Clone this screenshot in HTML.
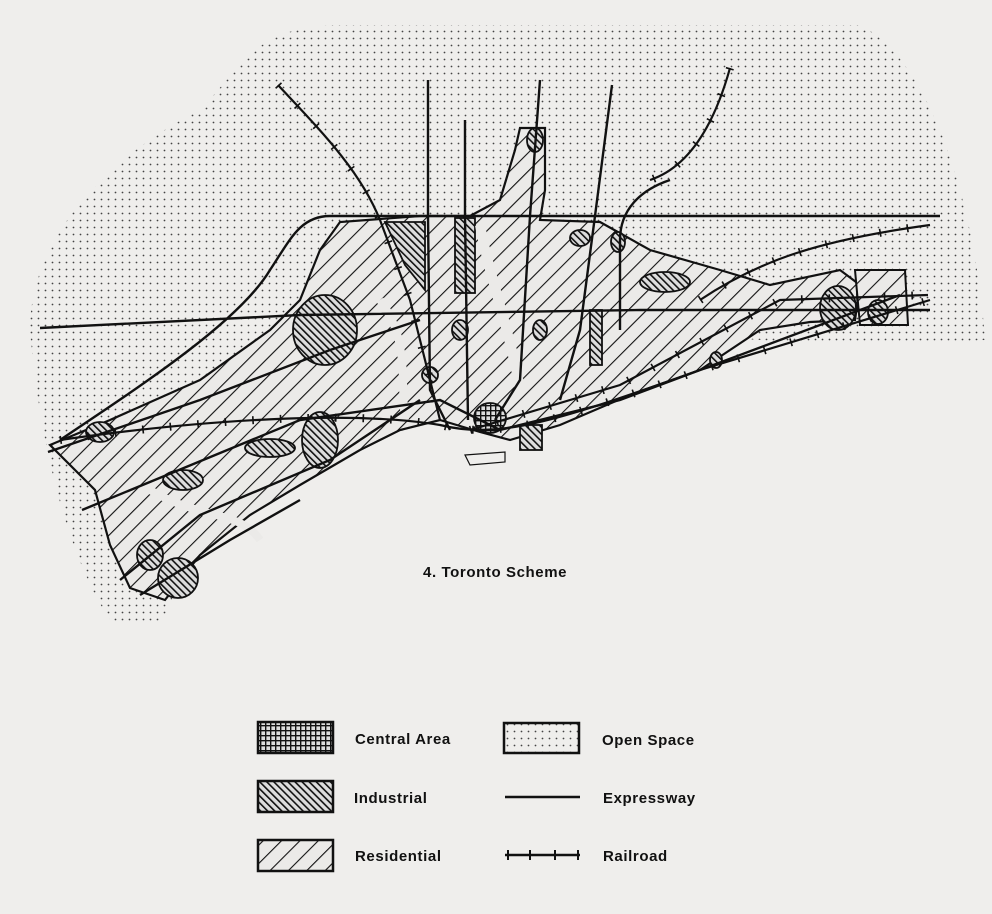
<!DOCTYPE html>
<html><head><meta charset="utf-8"><style>
html,body{margin:0;padding:0;background:#efeeec;}
svg{display:block;}
text{font-family:"Liberation Sans",sans-serif;fill:#111;}
</style></head><body>
<svg width="992" height="914" viewBox="0 0 992 914" xmlns="http://www.w3.org/2000/svg">
<defs>
<pattern id="dots" width="7" height="7" patternUnits="userSpaceOnUse"><circle cx="3.5" cy="3.5" r="0.9" fill="#444"/></pattern>
<pattern id="res" width="13" height="13" patternUnits="userSpaceOnUse" patternTransform="rotate(45)"><rect width="13" height="13" fill="#ebeae8"/><line x1="0" y1="0" x2="0" y2="13" stroke="#111" stroke-width="2.2"/></pattern>
<pattern id="ind" width="5" height="5" patternUnits="userSpaceOnUse" patternTransform="rotate(-45)"><rect width="5" height="5" fill="#ddd"/><line x1="0" y1="0" x2="0" y2="5" stroke="#111" stroke-width="3.2"/></pattern>
<pattern id="cen" width="5" height="5" patternUnits="userSpaceOnUse"><rect width="5" height="5" fill="#ddd"/><path d="M0 0H5M0 0V5" stroke="#111" stroke-width="2.8"/></pattern>
</defs>
<!-- open space -->
<path d="M30 330 C30 230 120 150 200 110 C240 70 250 30 330 25 L860 25 C930 60 975 200 985 340 L870 345 L760 340 L600 330 L430 420 L300 470 L190 560 L160 625 L110 620 C70 560 40 450 30 330 Z" fill="url(#dots)"/>
<!-- residential -->
<path d="M50 445 L110 420 L200 380 L270 330 L300 300 L320 250 L340 222 L420 216 L470 216 L500 200 L515 150 L520 128 L545 128 L545 190 L540 220 L600 222 L650 250 L720 270 L770 285 L840 270 L860 285 L855 320 L810 322 L760 330 L700 370 L630 395 L560 425 L510 440 L480 432 L440 420 L400 430 L360 450 L300 485 L250 515 L200 555 L165 600 L130 588 L110 545 L95 490 Z" fill="url(#res)" stroke="#111" stroke-width="2.2"/>
<path d="M855 270 L905 270 L908 325 L860 325 Z" fill="url(#res)" stroke="#111" stroke-width="2"/>
<!-- industrial patches -->
<g fill="url(#ind)" stroke="#111" stroke-width="1.8">
<path d="M385 222 L425 222 L425 290 L405 265 Z"/>
<rect x="455" y="218" width="20" height="75"/>
<ellipse cx="325" cy="330" rx="32" ry="35"/>
<ellipse cx="100" cy="432" rx="14" ry="10"/>
<ellipse cx="183" cy="480" rx="20" ry="10"/>
<ellipse cx="270" cy="448" rx="25" ry="9"/>
<ellipse cx="320" cy="440" rx="18" ry="28"/>
<ellipse cx="150" cy="555" rx="13" ry="15"/>
<ellipse cx="178" cy="578" rx="20" ry="20"/>
<ellipse cx="665" cy="282" rx="25" ry="10"/>
<ellipse cx="838" cy="308" rx="18" ry="22"/>
<ellipse cx="878" cy="312" rx="10" ry="12"/>
<rect x="590" y="310" width="12" height="55"/>
<rect x="520" y="425" width="22" height="25"/>
<ellipse cx="580" cy="238" rx="10" ry="8"/>
<ellipse cx="618" cy="242" rx="7" ry="10"/>
<ellipse cx="535" cy="140" rx="8" ry="12"/>
<ellipse cx="460" cy="330" rx="8" ry="10"/>
<ellipse cx="540" cy="330" rx="7" ry="10"/>
<ellipse cx="716" cy="360" rx="6" ry="8"/>
<ellipse cx="430" cy="375" rx="8" ry="8"/>
</g>
<ellipse cx="490" cy="418" rx="16" ry="15" fill="url(#cen)" stroke="#111" stroke-width="1.8"/>
<!-- parks/white strips -->
<g fill="none" stroke="#111" stroke-width="1.2">
<path d="M480 225 C490 280 510 330 520 390" stroke-width="10" stroke="#ebeae8"/>
<path d="M380 300 C410 340 400 380 405 420" stroke-width="8" stroke="#ebeae8"/>
<path d="M150 490 C200 520 240 510 260 540" stroke-width="8" stroke="#ebeae8"/>
<path d="M465 455 L505 452 L505 462 L470 465 Z" fill="#efeeec"/>
</g>
<!-- expressways -->
<g fill="none" stroke="#111" stroke-width="2.4">
<path d="M940 216 L330 216 C300 216 290 240 270 270 C240 320 150 380 60 440"/>
<path d="M40 328 L300 315 L640 310 L930 310"/>
<path d="M428 80 L428 216 L430 390 L450 430"/>
<path d="M465 120 L465 216 L468 420"/>
<path d="M540 80 L530 216 L520 380 L495 420"/>
<path d="M612 85 L595 216 L580 330 L560 400"/>
<path d="M82 510 L300 420 L440 400 L500 430 L620 400 L900 295"/>
<path d="M120 580 L200 515 L330 460 L420 400"/>
<path d="M140 595 L230 540 L300 500"/>
<path d="M48 452 L200 400 L330 350 L420 320"/>
<path d="M620 330 L620 240 C620 210 640 190 670 180"/>
</g>
<!-- railroads -->
<g fill="none" stroke="#111">
<g stroke-width="2.2">
<path id="r1" d="M278 85 C320 130 360 170 380 220 L410 300 L430 380 L440 420"/>
<path d="M730 68 C710 140 680 170 650 180"/>
<path d="M60 440 C200 420 350 410 440 425 C500 440 560 420 700 370 L930 300"/>
<path d="M700 300 C760 260 820 240 930 225"/>
<path d="M470 430 L620 385 L780 300 L928 295"/>
<path d="M40 328 L300 315 L640 310 L930 310" stroke-width="0"/>
</g>
<g stroke-width="8" stroke-dasharray="1.6 26">
<path d="M278 85 C320 130 360 170 380 220 L410 300 L430 380 L440 420"/>
<path d="M730 68 C710 140 680 170 650 180"/>
<path d="M60 440 C200 420 350 410 440 425 C500 440 560 420 700 370 L930 300"/>
<path d="M700 300 C760 260 820 240 930 225"/>
<path d="M470 430 L620 385 L780 300 L928 295"/>
</g>
</g>
<!-- title -->
<text x="423" y="577" font-size="15" font-weight="bold" letter-spacing="0.6">4.  Toronto  Scheme</text>
<!-- legend -->
<rect x="258" y="722" width="75" height="31" fill="url(#cen)" stroke="#111" stroke-width="2.5"/>
<rect x="258" y="781" width="75" height="31" fill="url(#ind)" stroke="#111" stroke-width="2.5"/>
<rect x="258" y="840" width="75" height="31" fill="url(#res)" stroke="#111" stroke-width="2.5"/>
<rect x="504" y="723" width="75" height="30" fill="url(#dots)" stroke="#111" stroke-width="2.5"/>
<line x1="505" y1="797" x2="580" y2="797" stroke="#111" stroke-width="2.5"/>
<line x1="505" y1="855" x2="580" y2="855" stroke="#111" stroke-width="2.5"/>
<g stroke="#111" stroke-width="2"><line x1="508" y1="850" x2="508" y2="860"/><line x1="530" y1="850" x2="530" y2="860"/><line x1="555" y1="850" x2="555" y2="860"/><line x1="578" y1="850" x2="578" y2="860"/></g>
<g font-size="15" font-weight="bold" letter-spacing="0.6">
<text x="355" y="744">Central  Area</text>
<text x="354" y="803">Industrial</text>
<text x="355" y="861">Residential</text>
<text x="602" y="745">Open  Space</text>
<text x="603" y="803">Expressway</text>
<text x="603" y="861">Railroad</text>
</g>
</svg>
</body></html>
